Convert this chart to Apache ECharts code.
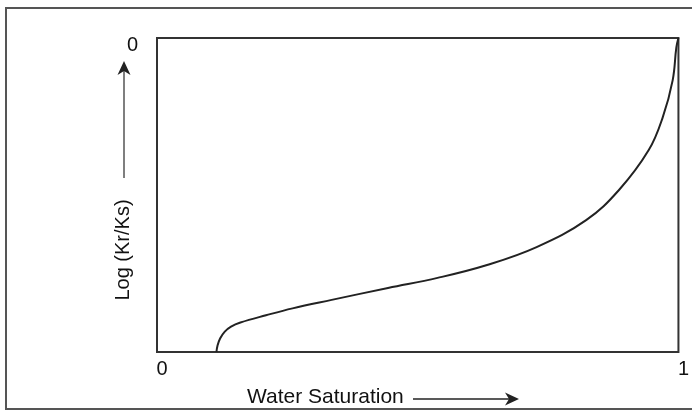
<!DOCTYPE html>
<html>
<head>
<meta charset="utf-8">
<script src="https://cdn.jsdelivr.net/npm/echarts@6/dist/echarts.min.js"></script>
<style>html,body{margin:0;padding:0;background:#fff}#c{width:692px;height:411px}</style>
</head>
<body>
<div id="c"></div>
<script>
// Water saturation (fraction 0..1)
const saturation = [0.114, 0.116, 0.121, 0.130, 0.142, 0.160, 0.209, 0.260, 0.335, 0.443, 0.538, 0.633, 0.728, 0.823, 0.886, 0.943, 0.970, 0.989, 0.996, 1.0];
// Log (Kr/Ks), relative scale with 0 at top
const logKrKs = [-1.0, -0.980, -0.957, -0.935, -0.919, -0.906, -0.883, -0.861, -0.834, -0.796, -0.764, -0.723, -0.666, -0.580, -0.484, -0.357, -0.252, -0.134, -0.030, 0.0];
const xTickLabels = ['0', '1'];
const yTopLabel = '0';
const xTitle = 'Water Saturation';
const yTitle = 'Log (Kr/Ks)';

const FONT = '"Liberation Sans", Arial, sans-serif';
const chart = echarts.init(document.getElementById('c'));
chart.setOption({
  animation: false,
  grid: { left: 157, top: 38, right: 9, bottom: 59, show: true, borderColor: '#333', borderWidth: 2, backgroundColor: 'transparent' },
  xAxis: {
    type: 'value', min: 0, max: 1, interval: 1,
    axisLine: { show: false }, axisTick: { show: false }, splitLine: { show: false },
    axisLabel: {
      margin: 7, fontSize: 20, fontFamily: FONT, color: '#111', padding: [0, 0, 0, 10],
      formatter: v => xTickLabels[Math.round(v)]
    }
  },
  yAxis: {
    type: 'value', min: -1, max: 0, interval: 1,
    axisLine: { show: false }, axisTick: { show: false }, splitLine: { show: false },
    axisLabel: {
      margin: 19, fontSize: 20, fontFamily: FONT, color: '#111', verticalAlign: 'top', lineHeight: 14,
      formatter: v => (v === 0 ? yTopLabel : '')
    }
  },
  series: [{
    type: 'line',
    data: saturation.map((x, i) => [x, logKrKs[i]]),
    smooth: 0.4, showSymbol: false,
    lineStyle: { color: '#222', width: 2 }
  }],
  graphic: [
    { type: 'rect', shape: { x: 6, y: 8, width: 720, height: 401 }, style: { fill: 'none', stroke: '#555', lineWidth: 2 }, silent: true },
    { type: 'text', left: 247, top: 387, style: { text: xTitle, font: '21px ' + FONT, fill: '#111' } },
    { type: 'text', x: 123, y: 250, rotation: Math.PI / 2, style: { text: yTitle, font: '20px ' + FONT, fill: '#111', align: 'center', verticalAlign: 'middle' } },
    { type: 'line', shape: { x1: 413, y1: 399, x2: 510, y2: 399 }, style: { stroke: '#222', lineWidth: 1.5 } },
    { type: 'polygon', shape: { points: [[519, 399], [505, 392.5], [509, 399], [505, 405.5]] }, style: { fill: '#222' } },
    { type: 'line', shape: { x1: 124, y1: 178, x2: 124, y2: 70 }, style: { stroke: '#555', lineWidth: 1.5 } },
    { type: 'polygon', shape: { points: [[124, 61], [117.5, 75], [124, 71], [130.5, 75]] }, style: { fill: '#222' } }
  ]
});
</script>
</body>
</html>
